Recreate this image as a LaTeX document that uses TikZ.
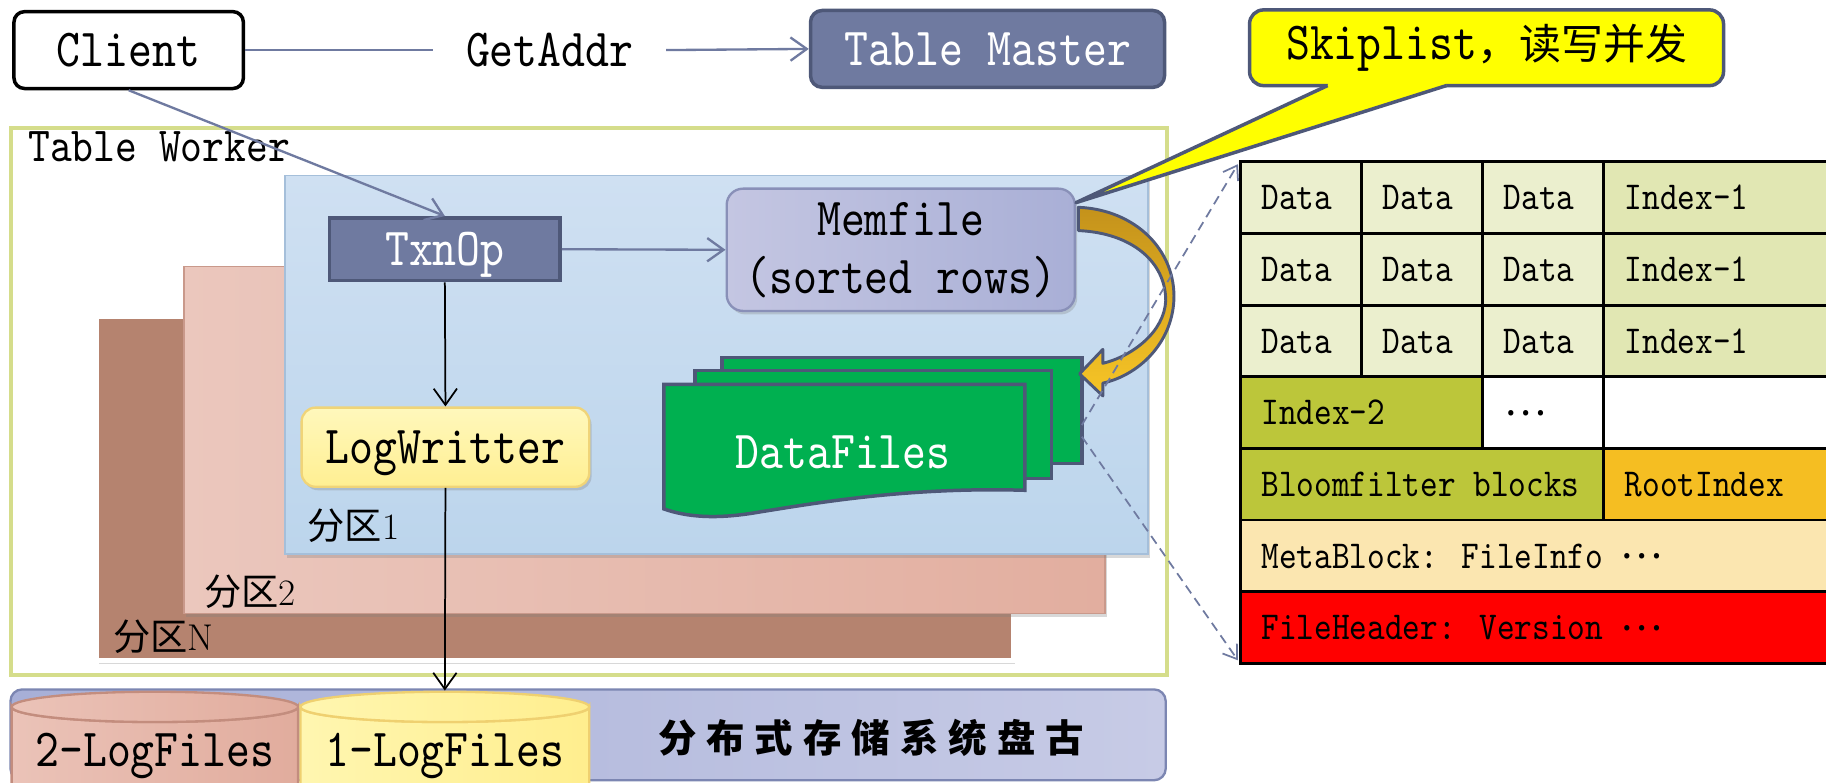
\documentclass[tikz,border=0pt]{standalone}
\usepackage{fontspec}
\newfontfamily\cjk{Noto Sans CJK SC}
\newfontfamily\cjkwide[LetterSpace=26]{Noto Sans CJK SC}
\newfontfamily\mono[FakeStretch=0.85]{lmmono10-regular.otf}
\usetikzlibrary{arrows.meta,shadows}
\newcommand{\middots}{\raisebox{8pt}{\cjk …}}

\definecolor{slate}{HTML}{6F7AA0}
\definecolor{slatedark}{HTML}{4E5878}
\definecolor{workerline}{HTML}{D5DD8B}
\definecolor{partN}{HTML}{B5836F}
\definecolor{partTwoA}{HTML}{EBC7BD}
\definecolor{partTwoB}{HTML}{E2AE9F}
\definecolor{partTwoLine}{HTML}{C9998B}
\definecolor{partOneA}{HTML}{CFE0F2}
\definecolor{partOneB}{HTML}{BCD5EC}
\definecolor{partOneLine}{HTML}{A5BFDA}
\definecolor{memA}{HTML}{C4C6E2}
\definecolor{memB}{HTML}{A9AFD6}
\definecolor{memLine}{HTML}{8990B8}
\definecolor{logA}{HTML}{FFF8BC}
\definecolor{logB}{HTML}{FFEF92}
\definecolor{logLine}{HTML}{F0D478}
\definecolor{dfgreen}{HTML}{00B050}
\definecolor{bendA}{HTML}{C4921B}
\definecolor{bendB}{HTML}{F7C526}
\definecolor{calloutY}{HTML}{FFFF00}
\definecolor{dataC}{HTML}{EBEFCE}
\definecolor{idxOne}{HTML}{E1E7B3}
\definecolor{idxTwo}{HTML}{BCC63A}
\definecolor{rootC}{HTML}{F5BE22}
\definecolor{metaC}{HTML}{FBE6B0}
\definecolor{headC}{HTML}{FF0000}
\definecolor{panguA}{HTML}{A7AFD7}
\definecolor{panguB}{HTML}{C7CBE6}
\definecolor{panguLine}{HTML}{7C86B2}
\definecolor{cylTwoA}{HTML}{EBC3B8}
\definecolor{cylTwoB}{HTML}{E1AC9D}
\definecolor{cylTwoLine}{HTML}{C38D7E}
\definecolor{cylOneA}{HTML}{FFF6B0}
\definecolor{cylOneB}{HTML}{FFEE8E}
\definecolor{cylOneLine}{HTML}{EFD070}

\begin{document}
\begin{tikzpicture}[x=1pt, y=-1pt,
    big/.style={font=\mono\fontsize{46}{50}\selectfont},
    small/.style={font=\mono\fontsize{34}{38}\selectfont},
    box/.style={anchor=north west, inner sep=0pt},
    plabel/.style={anchor=base west, inner sep=0pt, font=\cjk\fontsize{32}{34}\selectfont},
    softshadow/.style={drop shadow={shadow xshift=2pt, shadow yshift=-3pt, opacity=0.3}},
    flow/.style={draw=slate, line width=2pt, -{Straight Barb[length=14pt, width=20pt]}},
    logflow/.style={draw=black, line width=1.5pt, -{Straight Barb[length=14pt, width=20pt]}},
    link/.style={draw=slate, line width=1.5pt, dash pattern=on 8pt off 5pt, -{Straight Barb[length=11pt, width=15pt]}},
    page/.style={fill=dfgreen, draw=slatedark, line width=3pt},
    cell/.style={draw=black, line width=2.5pt},
    celltext/.style={small, anchor=west, inner sep=0pt, text height=21pt, text depth=0pt}]

  \fill[white] (0,0) rectangle (1568,672);
  \useasboundingbox (0,0) rectangle (1568,672);

  \node[big, draw=black, line width=3pt, rounded corners=9pt, fill=white,
    minimum width=197pt, minimum height=66pt] (client) at (110.5,43) {Client};
  \node[big, inner xsep=28pt] (getaddr) at (472,43) {GetAddr};
  \node[big, text=white, fill=slate, draw=slatedark, line width=3pt, rounded corners=10pt,
    minimum width=304pt, minimum height=66pt] (master) at (848,42) {Table Master};

  \node[box, draw=workerline, line width=3.5pt, fill=white,
    minimum width=992pt, minimum height=470pt] (worker) at (8,108) {};
  \node[font=\mono\fontsize{42}{46}\selectfont, anchor=base west, inner sep=0pt]
    (workerlabel) at (24,139) {Table Worker};

  \node[box, fill=partN, draw=white, line width=4pt, softshadow,
    minimum width=787pt, minimum height=295pt] (pN) at (81,270) {};
  \node[box, left color=partTwoA, right color=partTwoB, draw=partTwoLine, line width=1.5pt, softshadow,
    minimum width=791pt, minimum height=298pt] (p2) at (157,228) {};
  \node[box, top color=partOneA, bottom color=partOneB, draw=partOneLine, line width=1.5pt, softshadow,
    minimum width=741pt, minimum height=325pt] (p1) at (244,150) {};

  \node[plabel] (pNlabel) at (97,559) {分区{\rmfamily N}};
  \node[plabel] (p2label) at (175,520) {分区{\rmfamily 2}};
  \node[plabel] (p1label) at (264,463) {分区{\rmfamily 1}};

  \node[big, text=white, fill=slate, draw=slatedark, line width=3pt, text depth=0pt,
    minimum width=198pt, minimum height=54pt] (txnop) at (382,214) {TxnOp};
  \node[big, align=center, left color=memA, right color=memB, draw=memLine, line width=2pt,
    rounded corners=14pt, softshadow, minimum width=299pt, minimum height=105pt]
    (memfile) at (773.5,214.5) {\raisebox{-5pt}{Memfile}\\\raisebox{-5pt}{(sorted rows)}};
  \node[big, top color=logA, bottom color=logB, draw=logLine, line width=2pt, text depth=0pt,
    rounded corners=12pt, softshadow, minimum width=247pt, minimum height=68pt]
    (logw) at (382.5,384) {LogWritter};

  \filldraw[page] (620,307) rectangle (929,398);
  \filldraw[page] (597,318) rectangle (903,411);
  \filldraw[page] (570,330) -- (880,330) -- (880,421)
    .. controls (780,418) and (700,432) .. (650,440)
    .. controls (615,446) and (590,444) .. (570,437) -- cycle;
  \node[big, text=white, text depth=0pt] (datafiles) at (724,388) {DataFiles};
  \coordinate (dfa) at (929,365);
  \coordinate (dfb) at (929,375);

  \node[big, fill=calloutY, draw=slatedark, line width=3pt, rounded corners=12pt,
    minimum width=407pt, minimum height=65pt]
    (skip) at (1276.5,41) {Skiplist{\cjk\fontsize{36}{38}\selectfont ，读写并发}};
  \coordinate (tip) at (924,174);
  \fill[calloutY] (1141,70) -- (1241,70) -- (1242,73.5) -- (tip) -- (1140,73.5) -- cycle;
  \draw[slatedark, line width=3pt, line join=round] (1140,73.5) -- (tip) -- (1242,73.5);

  \draw[top color=bendA, bottom color=bendB, draw=slatedark, line width=2.5pt, line join=round]
    (926,178) .. controls (975,180) and (1010,215) .. (1008,258)
    .. controls (1006,295) and (978,322) .. (947,329)
    -- (947,340) -- (927,321) -- (947,300) -- (947,312)
    .. controls (972,306) and (1000,285) .. (1001,258)
    .. controls (1001,225) and (972,200) .. (926,198) -- cycle;

  \begin{scope}
    \clip (1055,130) rectangle (1568,580);
    \foreach \r/\y in {1/139, 2/200.5, 3/262} {
      \foreach \c/\x in {1/1065, 2/1169, 3/1273} {
        \draw[cell, fill=dataC] (\x,\y) rectangle ++(104,61.5);
        \node[celltext] (data-\r-\c) at (\x+18,\y+30.75) {Data};
      }
      \draw[cell, fill=idxOne] (1377,\y) rectangle ++(240,61.5);
      \node[celltext] (index-\r) at (1395,\y+30.75) {Index-1};
    }
    \draw[cell, fill=idxTwo] (1065,323.5) rectangle (1273,385);
    \draw[cell, fill=white] (1273,323.5) rectangle (1377,385);
    \draw[cell, fill=white] (1377,323.5) rectangle (1617,385);
    \node[celltext] (indextwo) at (1083,354.25) {Index-2};
    \node[celltext] (more) at (1292,354.25) {\middots};

    \draw[cell, fill=idxTwo] (1065,385) rectangle (1377,446.5);
    \draw[cell, fill=rootC] (1377,385) rectangle (1617,446.5);
    \node[celltext] (bloom) at (1083,415.75) {Bloomfilter blocks};
    \node[celltext] (root) at (1395,415.75) {RootIndex};

    \draw[cell, fill=metaC] (1065,446.5) rectangle (1617,508);
    \node[celltext] (meta) at (1083,477.25) {MetaBlock: FileInfo \middots};
    \draw[cell, fill=headC] (1065,508) rectangle (1617,569.5);
    \node[celltext] (header) at (1083,538.75) {FileHeader: Version \middots};
  \end{scope}
  \coordinate (tabtop) at (1063,141);
  \coordinate (tabbot) at (1063,567);

  \begin{scope}
    \clip (0,0) rectangle (1568,672);
    \node[box, left color=panguA, right color=panguB, draw=panguLine, line width=2pt,
      rounded corners=10pt, minimum width=992pt, minimum height=78pt] (pangu) at (8,591) {};
    \filldraw[left color=cylTwoA, right color=cylTwoB, draw=cylTwoLine, line width=2pt]
      (10,607) -- (10,690) -- (256,690) -- (256,607)
      arc[start angle=0, end angle=180, x radius=123, y radius=13] -- cycle;
    \filldraw[left color=cylTwoA, right color=cylTwoB, draw=cylTwoLine, line width=2pt]
      (133,607) ellipse[x radius=123, y radius=13];
    \filldraw[left color=cylOneA, right color=cylOneB, draw=cylOneLine, line width=2pt]
      (258,607) -- (258,690) -- (506,690) -- (506,607)
      arc[start angle=0, end angle=180, x radius=124, y radius=13] -- cycle;
    \filldraw[left color=cylOneA, right color=cylOneB, draw=cylOneLine, line width=2pt]
      (382,607) ellipse[x radius=124, y radius=13];
    \node[big, text depth=0pt] (log2) at (133,644) {2-LogFiles};
    \node[big, text depth=0pt] (log1) at (382,644) {1-LogFiles};
    \node[font=\cjkwide\bfseries\fontsize{33}{36}\selectfont] (panguname) at (748,634) {分布式存储系统盘古};
  \end{scope}
  \coordinate (log1top) at (382,593);

  \draw[flow, -] (client.east) -- (getaddr.west);
  \draw[flow] (getaddr.east) -- (master.west);
  \draw[flow] (client.south) -- (txnop.north);
  \draw[flow] (txnop.east) -- (memfile.west);
  \draw[logflow] (txnop.south) -- (logw.north);
  \draw[logflow] (logw.south) -- (log1top);

  \draw[link] (dfa) -- (tabtop);
  \draw[link] (dfb) -- (tabbot);
\end{tikzpicture}
\end{document}
